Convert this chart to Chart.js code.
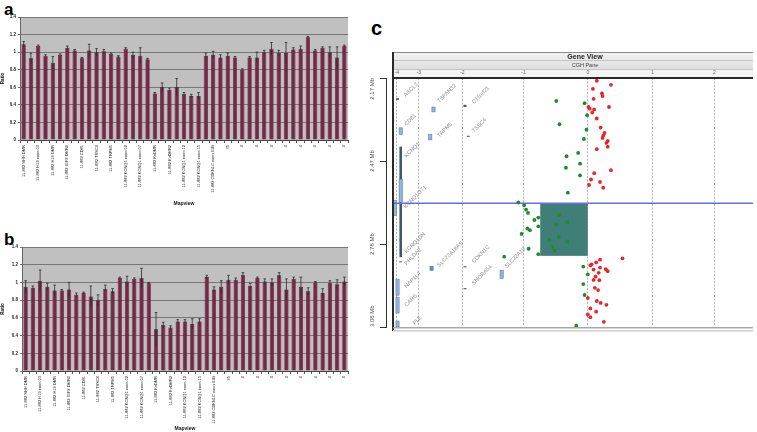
<!DOCTYPE html>
<html>
<head>
<meta charset="utf-8">
<script src="https://cdn.jsdelivr.net/npm/chart.js@4.4.1/dist/chart.umd.min.js"></script>
<style>
  html, body { margin: 0; padding: 0; background: #fff; }
  body { width: 757px; height: 432px; position: relative; overflow: hidden; font-family: "Liberation Sans", Arial, sans-serif; }
  canvas { position: absolute; }
  .tag { position: absolute; font-weight: bold; color: #000; line-height: 1; }
</style>
</head>
<body>
<div class="tag" style="left:4px;top:1px;font-size:17px">a</div>
<div class="tag" style="left:4px;top:231px;font-size:17px">b</div>
<div class="tag" style="left:371px;top:18px;font-size:20px">c</div>
<canvas id="chartA" width="362" height="207" style="left:0;top:0"></canvas>
<canvas id="chartB" width="362" height="202" style="left:0;top:230px"></canvas>
<canvas id="chartC" width="397" height="412" style="left:360px;top:20px"></canvas>
<script>
/*************************************************
 * DATA – panels a / b (Mapview ratios)
 *************************************************/
const catLabels = [
  "11-882 SHH DMR", "11-882 SHH DMR2", "11-882 H19 exon 03", "11-882 H19 exon 04",
  "11-882 H19 DMR", "11-882 H19 DMR2", "11-882 IGF2 DMR0", "11-882 IGF2 DMR2",
  "11-882 CD81", "11-882 CD81b", "11-882 TSSC4", "11-882 TSSC4b",
  "11-882 TRPM5", "11-882 TRPM5b", "11-882 KCNQ1 exon 02", "11-882 KCNQ1 exon 03",
  "11-882 KCNQ1 exon 07", "11-882 KCNQ1 exon 08", "11-882 KvDMR", "11-882 KvDMR1",
  "11-882 KvDMR2", "11-882 KvDMR3", "11-882 KCNQ1 exon 12", "11-882 KCNQ1 exon 13",
  "11-882 KCNQ1 exon 15", "11-882 KCNQ1 exon 16", "11-882 CDKN1C exon 01B", "11-882 CDKN1C exon 02",
  "35", "36", "4", "4", "4", "4", "4", "4", "4", "4", "4", "4", "4", "4", "4", "4", "4"
];

const ratioA = [1.09, 0.93, 1.07, 0.96, 0.88, 0.97, 1.05, 1.02, 0.93, 1.02, 1.00, 1.01, 0.98, 0.95, 1.04,
  0.97, 0.96, 0.92, 0.53, 0.60, 0.57, 0.60, 0.52, 0.50, 0.50, 0.96, 0.97, 0.94, 0.96, 0.94, 0.80,
  0.94, 0.94, 1.00, 1.04, 0.99, 0.99, 1.03, 1.04, 1.17, 1.02, 1.05, 1.00, 0.94, 1.07];
const errA = [0.03, 0.06, 0.01, 0.01, 0.07, 0.01, 0.02, 0.01, 0.01, 0.07, 0.04, 0.02, 0.01, 0.01, 0.01,
  0.03, 0.09, 0.01, 0.01, 0.05, 0.02, 0.10, 0.02, 0.02, 0.04, 0.03, 0.04, 0.03, 0.03, 0.01, 0.01,
  0.01, 0.06, 0.02, 0.07, 0.03, 0.12, 0.02, 0.03, 0.01, 0.01, 0.01, 0.06, 0.12, 0.01];

const ratioB = [0.95, 0.94, 1.02, 0.95, 0.91, 0.91, 0.92, 0.86, 0.88, 0.84, 0.80, 0.93, 0.90, 1.05, 1.01,
  1.04, 1.05, 0.99, 0.47, 0.52, 0.49, 0.56, 0.56, 0.53, 0.56, 1.06, 0.92, 0.95, 1.03, 1.03, 1.08,
  0.96, 1.05, 1.01, 1.00, 1.08, 0.92, 1.04, 0.95, 0.90, 1.00, 0.88, 0.99, 0.98, 1.01];
const errB = [0.07, 0.02, 0.12, 0.04, 0.06, 0.01, 0.08, 0.02, 0.01, 0.12, 0.06, 0.04, 0.03, 0.01, 0.06,
  0.01, 0.11, 0.01, 0.19, 0.03, 0.02, 0.02, 0.02, 0.06, 0.03, 0.02, 0.03, 0.07, 0.05, 0.02, 0.03,
  0.03, 0.01, 0.03, 0.04, 0.03, 0.12, 0.02, 0.11, 0.04, 0.01, 0.05, 0.03, 0.05, 0.05];

/*************************************************
 * DATA – panel c (Gene View / CGH pane)
 *************************************************/
const cTickVals = [-2.97, -2.63, -1.95, -1.0, 0, 1.01, 1.97];
const cTickLabels = ["-4", "-3", "-2", "-1", "0", "1", "2"];
const mbTicks = [2.17, 2.473, 2.777, 3.08];
const mbLabels = ["2.17 Mb", "2.47 Mb", "2.78 Mb", "3.08 Mb"];

const greenX = [-0.49, -0.05, -0.01, -0.44, -0.02, -0.06, -0.15, -0.33, -0.12, -0.34, -0.12, -0.31,
  -1.08, -0.99, -0.96, -0.93, -0.77, -0.83, -0.45, -0.49, -0.32, -0.77, -0.94, -0.90, -1.03,
  -0.45, -0.60, -0.32, -0.55, -0.52, -0.92, -0.77, -1.30, -0.07, 0.00, -0.07, -0.05, -0.18];
const greenY = [2.254, 2.262, 2.306, 2.339, 2.359, 2.393, 2.444, 2.456, 2.483, 2.498, 2.526, 2.589,
  2.625, 2.635, 2.651, 2.663, 2.680, 2.689, 2.671, 2.706, 2.697, 2.712, 2.720, 2.726, 2.740,
  2.751, 2.763, 2.768, 2.786, 2.800, 2.794, 2.814, 2.823, 2.859, 2.888, 2.923, 2.963, 3.075];

const redX = [0.14, 0.36, 0.08, 0.22, 0.23, 0.09, 0.01, 0.03, 0.10, 0.33, 0.07, 0.14, 0.20, 0.26,
  0.24, 0.23, 0.31, 0.29, 0.31, 0.14, 0.36, 0.10, 0.05, 0.19, 0.02, 0.24, 0.54, 0.19, 0.13,
  0.06, 0.04, 0.19, 0.28, 0.31, 0.09, 0.17, 0.12, 0.18, 0.09, 0.11, 0.16, 0.00, 0.14, 0.20,
  0.29, 0.04, 0.13, 0.00, 0.04, 0.25];
const redY = [2.180, 2.195, 2.210, 2.226, 2.236, 2.246, 2.276, 2.282, 2.285, 2.276, 2.296, 2.318,
  2.351, 2.371, 2.381, 2.389, 2.400, 2.407, 2.421, 2.430, 2.507, 2.518, 2.541, 2.550, 2.561,
  2.571, 2.829, 2.834, 2.844, 2.851, 2.855, 2.863, 2.869, 2.876, 2.870, 2.882, 2.896, 2.909,
  2.908, 2.937, 2.945, 2.974, 2.985, 2.992, 2.999, 3.012, 3.024, 3.034, 3.044, 3.061];

// selected aberration region
const regionX = [-0.74, 0];
const regionMb = [2.628, 2.82];
const cursorMb = 2.628;

const geneNames = ["ASCL2", "TSPAN32", "C11orf21", "CD81", "TRPM5", "TSSC4", "KCNQ1", "KCNQ1OT1",
  "KCNQ1DN", "PHLDA2", "SLC22A18AS", "CDKN1C", "SNORA54", "SLC22A18", "NAP1L4", "CARS", "PLE"];
const geneLabelX = [-2.83, -2.31, -1.77, -2.82, -2.31, -1.77, -2.82, -2.83, -2.82, -2.82, -2.31,
  -1.77, -1.77, -1.26, -2.82, -2.82, -2.69];
const geneLabelMb = [2.239, 2.261, 2.265, 2.345, 2.388, 2.370, 2.461, 2.647, 2.811, 2.854, 2.862,
  2.847, 2.927, 2.865, 2.938, 3.007, 3.073];

const boxX = [-2.96, -2.40, -1.91, -2.91, -2.45, -1.86, -2.91, -2.91, -3.00, -2.91, -2.43, -1.91,
  -1.91, -1.34, -2.96, -2.96, -2.96];
const boxStart = [2.244, 2.276, 2.268, 2.352, 2.377, 2.381, 2.421, 2.540, 2.618, 2.840, 2.858,
  2.858, 2.938, 2.873, 2.905, 2.971, 3.058];
const boxEnd = [2.250, 2.294, 2.276, 2.377, 2.396, 2.385, 2.825, 2.625, 2.672, 2.843, 2.873,
  2.862, 2.942, 2.902, 2.964, 3.029, 3.080];
const boxKind = ["tick", "light", "tick", "light", "light", "tick", "dark", "light", "light", "tick",
  "mid", "tick", "tick", "light", "light", "light", "light"];

/*************************************************
 * COMMON
 *************************************************/
Chart.defaults.font.family = '"Liberation Sans", Arial, sans-serif';
Chart.defaults.animation = false;
const FONT = '"Liberation Sans", Arial, sans-serif';

const plotBg = {
  id: "plotBg",
  beforeDraw(chart) {
    const { ctx, chartArea: a } = chart;
    ctx.save();
    ctx.fillStyle = "#c0c0c0";
    ctx.fillRect(a.left, a.top, a.right - a.left, a.bottom - a.top);
    ctx.restore();
  }
};

const errorBars = {
  id: "errorBars",
  afterDatasetsDraw(chart, args, opts) {
    const { ctx } = chart;
    const y = chart.scales.y;
    const vals = chart.data.datasets[0].data;
    ctx.save();
    ctx.strokeStyle = "#2b2b2b";
    ctx.lineWidth = 0.8;
    chart.getDatasetMeta(0).data.forEach((bar, i) => {
      const top = y.getPixelForValue(vals[i] + opts.errs[i]);
      const bot = y.getPixelForValue(vals[i] - opts.errs[i]);
      ctx.beginPath();
      ctx.moveTo(bar.x, top);
      ctx.lineTo(bar.x, bot);
      ctx.moveTo(bar.x - 1.3, top);
      ctx.lineTo(bar.x + 1.3, top);
      ctx.stroke();
    });
    ctx.restore();
  }
};

function barChart(id, values, errs, yWidth, xHeight) {
  return new Chart(document.getElementById(id), {
    type: "bar",
    data: {
      labels: catLabels,
      datasets: [{
        data: values,
        backgroundColor: "#7a2747",
        borderColor: "#3e0c22",
        borderWidth: 0.6,
        barPercentage: 0.58,
        categoryPercentage: 1
      }]
    },
    options: {
      responsive: false,
      layout: { padding: { top: 17, right: 14, left: 0, bottom: 0 } },
      plugins: { legend: { display: false }, tooltip: { enabled: false }, errorBars: { errs } },
      scales: {
        x: {
          afterFit: s => { s.height = xHeight; },
          ticks: {
            autoSkip: false, minRotation: 90, maxRotation: 90, padding: 2,
            font: { size: 4 }, color: "#222",
            callback: (v, i) => (i % 2 === 0 ? catLabels[i] : "")
          },
          grid: { display: true, drawOnChartArea: false, offset: true, tickLength: 3, color: "#555" },
          border: { color: "#444" },
          title: { display: true, text: "Mapview", font: { size: 5, weight: "bold" }, color: "#111", padding: 0 }
        },
        y: {
          min: 0, max: 1.4,
          afterFit: s => { s.width = yWidth; },
          ticks: { stepSize: 0.2, font: { size: 4.5, weight: "bold" }, color: "#222", padding: 2,
                   callback: v => +v.toFixed(1) },
          grid: { color: "#777", lineWidth: 1, tickLength: 2 },
          border: { color: "#666" },
          title: { display: true, text: "Ratio", font: { size: 4.5, weight: "bold" }, color: "#111", padding: 0 }
        }
      }
    },
    plugins: [plotBg, errorBars]
  });
}

barChart("chartA", ratioA, errA, 20, 67);
barChart("chartB", ratioB, errB, 22, 61);

/*************************************************
 * PANEL C – Gene View
 *************************************************/
const geneView = {
  id: "geneView",
  beforeDraw(chart) {
    const { ctx, chartArea: a } = chart;
    ctx.save();
    const g = ctx.createLinearGradient(0, a.top - 26, 0, a.top - 8);
    g.addColorStop(0, "#f2f2f2");
    g.addColorStop(1, "#dedede");
    ctx.fillStyle = g;
    ctx.fillRect(a.left, a.top - 26, a.right - a.left, 18);
    ctx.fillStyle = "#f4f4f4";
    ctx.fillRect(a.left, a.top - 8, a.right - a.left, 8);
    ctx.strokeStyle = "#8c8c8c";
    ctx.lineWidth = 1;
    ctx.beginPath();
    ctx.moveTo(a.left, a.top - 25.5); ctx.lineTo(a.right, a.top - 25.5);
    ctx.stroke();
    ctx.strokeStyle = "#c4c4c4";
    ctx.beginPath();
    ctx.moveTo(a.left, a.top - 17.5); ctx.lineTo(a.right, a.top - 17.5);
    ctx.moveTo(a.left, a.top - 8.5); ctx.lineTo(a.right, a.top - 8.5);
    ctx.stroke();
    ctx.fillStyle = "#1a1a1a";
    ctx.textAlign = "center";
    ctx.textBaseline = "middle";
    ctx.font = "bold 7px " + FONT;
    ctx.fillText("Gene View", a.left + 192, a.top - 21);
    ctx.fillStyle = "#444";
    ctx.font = "5.5px " + FONT;
    ctx.fillText("CGH Pane", a.left + 192, a.top - 12.5);
    ctx.restore();
  },
  beforeDatasetsDraw(chart) {
    const { ctx, chartArea: a, scales: { x, y } } = chart;
    ctx.save();
    // aberration region
    ctx.fillStyle = "#3f7f77";
    const rx0 = x.getPixelForValue(regionX[0]), rx1 = x.getPixelForValue(regionX[1]);
    const ry0 = y.getPixelForValue(regionMb[0]), ry1 = y.getPixelForValue(regionMb[1]);
    ctx.fillRect(rx0, ry0, rx1 - rx0, ry1 - ry0);
    // gene boxes
    boxX.forEach((gx, i) => {
      const px = x.getPixelForValue(gx);
      const p0 = y.getPixelForValue(boxStart[i]);
      const p1 = Math.max(y.getPixelForValue(boxEnd[i]), p0 + 1);
      const k = boxKind[i];
      if (k === "tick") {
        ctx.fillStyle = "#555";
        ctx.fillRect(px - 1.5, p0, 3, p1 - p0);
      } else if (k === "dark") {
        ctx.fillStyle = "#3f5a66";
        ctx.fillRect(px - 1.3, p0, 2.6, p1 - p0);
      } else {
        ctx.fillStyle = k === "mid" ? "#6e86a8" : "#8fb6dd";
        ctx.strokeStyle = "#5b7fa8";
        ctx.lineWidth = 0.6;
        ctx.fillRect(px - 1.6, p0, 3.2, p1 - p0);
        ctx.strokeRect(px - 1.6, p0, 3.2, p1 - p0);
      }
    });
    // gene labels
    ctx.fillStyle = "#8a8a8a";
    ctx.font = "5.5px " + FONT;
    ctx.textAlign = "left";
    ctx.textBaseline = "alphabetic";
    geneNames.forEach((name, i) => {
      ctx.save();
      ctx.translate(x.getPixelForValue(geneLabelX[i]), y.getPixelForValue(geneLabelMb[i]));
      ctx.rotate(-Math.PI / 4);
      ctx.fillText(name, 0, 0);
      ctx.restore();
    });
    // cursor line
    const cy = y.getPixelForValue(cursorMb);
    ctx.strokeStyle = "#6a6af0";
    ctx.lineWidth = 1.6;
    ctx.beginPath();
    ctx.moveTo(a.left, cy); ctx.lineTo(a.right, cy);
    ctx.stroke();
    ctx.restore();
  },
  afterDraw(chart) {
    const { ctx, chartArea: a, scales: { y } } = chart;
    ctx.save();
    // frame
    ctx.fillStyle = "#2a2a2a";
    ctx.fillRect(a.left - 1, a.top - 26, 2, a.bottom - a.top + 30);
    ctx.fillRect(a.left, a.top - 1, a.right - a.left, 2);
    ctx.fillStyle = "#a8a8a8";
    ctx.fillRect(a.left, a.bottom, a.right - a.left, 1.5);
    ctx.fillStyle = "#cfcfcf";
    ctx.fillRect(a.left, a.bottom + 3, a.right - a.left, 1.5);
    // Mb bracket
    const bx = a.left - 7;
    const t0 = y.getPixelForValue(mbTicks[0]), t1 = y.getPixelForValue(mbTicks[mbTicks.length - 1]);
    ctx.strokeStyle = "#333";
    ctx.lineWidth = 1;
    ctx.beginPath();
    ctx.moveTo(bx + 0.5, t0); ctx.lineTo(bx + 0.5, t1);
    mbTicks.forEach(v => {
      const py = Math.round(y.getPixelForValue(v)) + 0.5;
      ctx.moveTo(bx - 6, py); ctx.lineTo(bx + 1, py);
    });
    ctx.stroke();
    ctx.fillStyle = "#555";
    ctx.font = "6px " + FONT;
    ctx.textAlign = "center";
    ctx.textBaseline = "middle";
    mbTicks.forEach((v, i) => {
      const half = ctx.measureText(mbLabels[i]).width / 2;
      const py = Math.min(Math.max(y.getPixelForValue(v), t0 + half), t1 - half);
      ctx.save();
      ctx.translate(a.left - 21, py);
      ctx.rotate(-Math.PI / 2);
      ctx.fillText(mbLabels[i], 0, 0);
      ctx.restore();
    });
    ctx.restore();
  }
};

new Chart(document.getElementById("chartC"), {
  type: "scatter",
  data: {
    datasets: [
      { data: greenX.map((v, i) => ({ x: v, y: greenY[i] })), backgroundColor: "#1d8a2c",
        pointRadius: 1.9, borderWidth: 0 },
      { data: redX.map((v, i) => ({ x: v, y: redY[i] })), backgroundColor: "#e8262a",
        pointRadius: 1.9, borderWidth: 0 }
    ]
  },
  options: {
    responsive: false,
    layout: { padding: { top: 0, left: 0, right: 0, bottom: 105 } },
    plugins: { legend: { display: false }, tooltip: { enabled: false } },
    scales: {
      x: {
        type: "linear", position: "top", min: -3.03, max: 2.57,
        afterBuildTicks: s => { s.ticks = cTickVals.map(v => ({ value: v })); },
        afterFit: s => { s.height = 58; },
        ticks: { autoSkip: false, maxRotation: 0, padding: 2, font: { size: 5 }, color: "#666",
                 callback: (v, i) => cTickLabels[i] },
        grid: { color: "#b4b4b4", lineWidth: 1, tickLength: 0 },
        border: { display: false, dash: [2, 1.5] }
      },
      y: {
        type: "linear", min: 2.17, max: 3.08, reverse: true,
        afterBuildTicks: s => { s.ticks = mbTicks.map(v => ({ value: v })); },
        afterFit: s => { s.width = 33; },
        ticks: { display: false },
        grid: { display: false },
        border: { display: false }
      }
    }
  },
  plugins: [geneView]
});
</script>
</body>
</html>
